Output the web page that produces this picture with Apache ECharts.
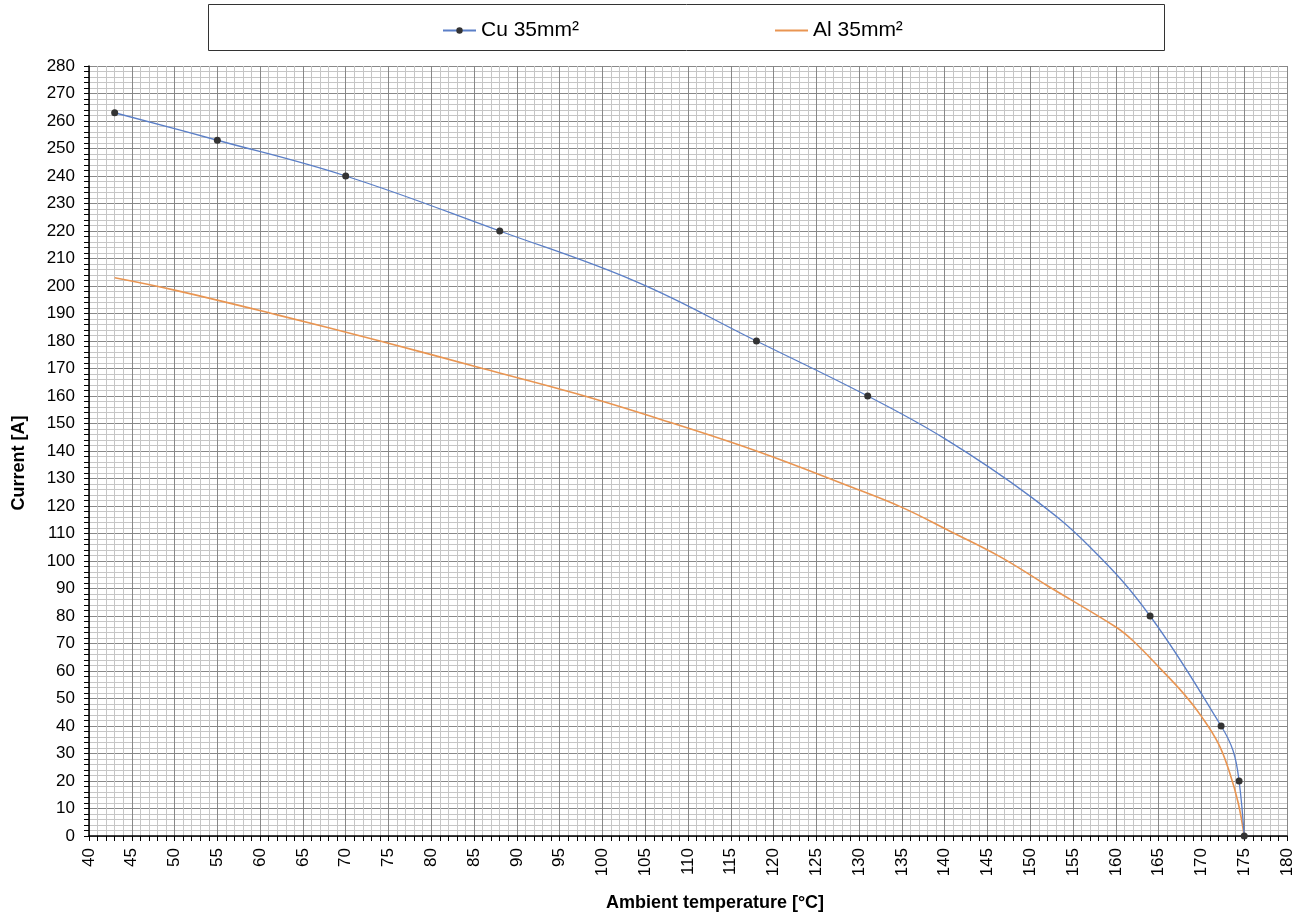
<!DOCTYPE html>
<html>
<head>
<meta charset="utf-8">
<script src="https://cdn.jsdelivr.net/npm/echarts@6/dist/echarts.min.js"></script>
<style>html,body{margin:0;padding:0;background:#fff;}#c{width:1304px;height:917px;}</style>
</head>
<body>
<div id="c"></div>
<script>
const cuName = 'Cu 35mm²';
const alName = 'Al 35mm²';
const xTitle = 'Ambient temperature [°C]';
const yTitle = 'Current [A]';

const cuTemp    = [43, 55, 70, 88, 104, 118, 131, 140, 150, 157, 164, 172.3, 173.7, 174.4, 175];
const cuCurrent = [263, 253, 240, 220, 201.5, 180, 160, 144.5, 123.5, 105, 80, 40, 31, 20, 0];
const cuMarked  = [1, 1, 1, 1, 0, 1, 1, 0, 0, 0, 1, 1, 0, 1, 1];

const alTemp    = [43, 50, 62, 74, 86, 97, 107, 118, 129, 135, 140.5, 146.5, 152, 160, 162, 165, 168, 170, 172, 173.3, 174.3, 175];
const alCurrent = [203, 198.5, 189.5, 180, 170, 160.8, 151.3, 140, 127, 119.5, 111, 101.5, 91, 76, 71, 61.5, 51.5, 43.5, 33.5, 23, 12, 0];

const cuData = cuTemp.map((t, i) => ({
  value: [t, cuCurrent[i]],
  symbol: cuMarked[i] ? 'circle' : 'none'
}));
const alData = alTemp.map((t, i) => [t, alCurrent[i]]);

const chart = echarts.init(document.getElementById('c'), null, {renderer: 'canvas'});
const font = 'Liberation Sans, Arial, sans-serif';
chart.setOption({
  animation: false,
  backgroundColor: '#fff',
  graphic: [{
    type: 'rect',
    shape: {x: 208.5, y: 4.5, width: 956, height: 46},
    style: {fill: 'none', stroke: '#333', lineWidth: 1},
    silent: true
  }],
  legend: {
    left: 437, top: 15,
    itemGap: 196,
    itemWidth: 33, itemHeight: 8,
    textStyle: {fontFamily: font, fontSize: 21, color: '#000'},
    data: [
      {name: cuName},
      {name: alName, icon: 'path://M0,0h36v2h-36z'}
    ]
  },
  grid: {left: 89, right: 17, top: 66, bottom: 78, containLabel: false},
  xAxis: {
    type: 'value', min: 40, max: 180, interval: 5,
    name: xTitle, nameLocation: 'middle', nameGap: 58,
    nameTextStyle: {fontFamily: font, fontSize: 18, fontWeight: 'bold', color: '#000', padding: [0, 0, 0, 54]},
    axisLine: {show: true, onZero: false, lineStyle: {color: '#000', width: 1.5}},
    axisTick: {show: true, length: 5, lineStyle: {color: '#000'}},
    minorTick: {show: true, splitNumber: 5, length: 5, lineStyle: {color: '#000'}},
    axisLabel: {rotate: 90, fontFamily: font, fontSize: 17, color: '#000', margin: 12},
    splitLine: {show: true, lineStyle: {color: '#888', width: 1}},
    minorSplitLine: {show: true, lineStyle: {color: '#c6c6c6', width: 1}}
  },
  yAxis: {
    type: 'value', min: 0, max: 280, interval: 10,
    name: yTitle, nameLocation: 'middle', nameGap: 61, nameRotate: 90,
    nameTextStyle: {fontFamily: font, fontSize: 18, fontWeight: 'bold', color: '#000', padding: [0, 24, 0, 0]},
    axisLine: {show: true, lineStyle: {color: '#000', width: 1.5}},
    axisTick: {show: true, length: 5, lineStyle: {color: '#000'}},
    minorTick: {show: true, splitNumber: 5, length: 5, lineStyle: {color: '#000'}},
    axisLabel: {fontFamily: font, fontSize: 17, color: '#000', margin: 14},
    splitLine: {show: true, lineStyle: {color: '#888', width: 1}},
    minorSplitLine: {show: true, lineStyle: {color: '#c6c6c6', width: 1}}
  },
  series: [
    {
      name: cuName, type: 'line', data: cuData, smooth: 0.4,
      symbol: 'circle', symbolSize: 7, showAllSymbol: true,
      lineStyle: {color: '#5b7fc7', width: 1.3},
      itemStyle: {color: '#333'},
      z: 3
    },
    {
      name: alName, type: 'line', data: alData, smooth: 0.4,
      symbol: 'none',
      lineStyle: {color: '#e99552', width: 1.6},
      itemStyle: {color: '#e99552'},
      z: 2
    }
  ]
});
</script>
</body>
</html>
